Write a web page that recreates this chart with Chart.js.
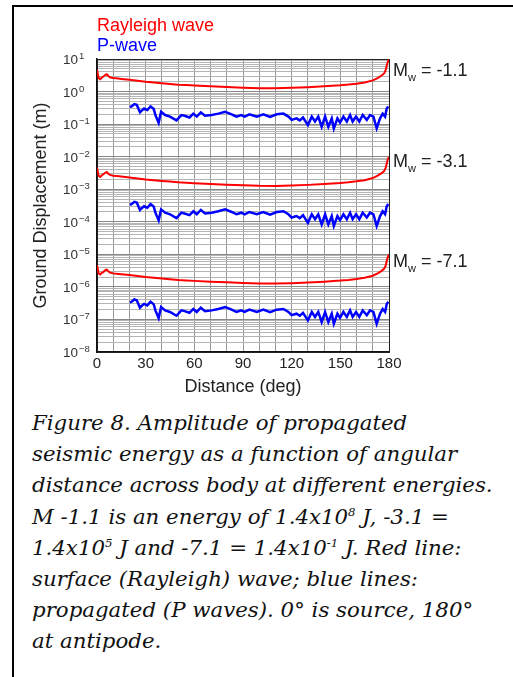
<!DOCTYPE html>
<html>
<head>
<meta charset="utf-8">
<script src="https://cdn.jsdelivr.net/npm/chart.js@4.4.1/dist/chart.umd.min.js"></script>
<style>
  html, body { margin: 0; padding: 0; background: #fff; }
  body { width: 513px; height: 677px; position: relative; overflow: hidden; }
  .frame { position: absolute; left: 12px; top: 5px; right: -4px; bottom: -4px; border-left: 2px solid #000; border-top: 2px solid #000; }
  #wrap { position: absolute; left: 0; top: 0; width: 513px; height: 400px; }
  .cap { position: absolute; left: 32px; top: 407px; margin: 0; font: italic 21.3px/31.2px "DejaVu Serif", serif; color: #111; white-space: nowrap; }
  .cap sup { font-size: 0.55em; line-height: 0; vertical-align: 0.7em; }
</style>
</head>
<body>
<div class="frame"></div>
<div id="wrap"><canvas id="c" width="513" height="400"></canvas></div>
<p class="cap">Figure 8. Amplitude of propagated<br>seismic energy as a function of angular<br>distance across body at different energies.<br>M -1.1 is an energy of 1.4x10<sup>8</sup> J, -3.1 =<br>1.4x10<sup>5</sup> J and -7.1 = 1.4x10<sup>-1</sup> J. Red line:<br>surface (Rayleigh) wave; blue lines:<br>propagated (P waves). 0° is source, 180°<br>at antipode.</p>
<script>
// Seismic amplitude vs angular distance for three magnitudes (log y axis, metres).

const MAGNITUDES = ["-1.1", "-3.1", "-7.1"];
const MW_LABEL_AT = [3.0, 4.8e-3, 4.1e-6]; // baseline of each "Mw = ..." label, in metres

const X_GRID = [0, 10, 20, 30, 40, 50, 60, 70, 80, 90, 100, 110, 120, 130, 140, 150, 160, 170, 180];
const X_LABELS = [0, 30, 60, 90, 120, 150, 180];
const Y_DECADES = [-8, -7, -6, -5, -4, -3, -2, -1, 0, 1];
const Y_MINOR = [2, 3, 4, 5, 6, 7, 8, 9];

const RAYLEIGH_DEG = [0, 1, 2, 3, 4, 5, 6, 7, 8, 10, 12, 15, 20, 25, 30, 35, 40, 45, 50, 55, 60,
  70, 80, 90, 100, 110, 120, 130, 140, 150, 155, 160, 165, 170, 173, 175, 177, 178, 179, 180];
const RAYLEIGH_M11 = [4.6, 2.6, 2.4, 2.7, 2.9, 3.2, 3.4, 3.0, 2.75, 2.6, 2.55, 2.45, 2.3, 2.15, 2.0, 1.9, 1.8, 1.72, 1.63, 1.58, 1.53,
  1.45, 1.38, 1.32, 1.27, 1.26, 1.3, 1.36, 1.45, 1.56, 1.64, 1.75, 1.9, 2.2, 2.6, 3.0, 3.6, 4.6, 7.5, 10];
const RAYLEIGH_M31 = [4.6e-3, 2.6e-3, 2.4e-3, 2.7e-3, 2.9e-3, 3.2e-3, 3.4e-3, 3.0e-3, 2.75e-3, 2.6e-3, 2.55e-3, 2.45e-3, 2.3e-3, 2.15e-3, 2.0e-3, 1.9e-3, 1.8e-3, 1.72e-3, 1.63e-3, 1.58e-3, 1.53e-3,
  1.45e-3, 1.38e-3, 1.32e-3, 1.27e-3, 1.26e-3, 1.3e-3, 1.36e-3, 1.45e-3, 1.56e-3, 1.64e-3, 1.75e-3, 1.9e-3, 2.2e-3, 2.6e-3, 3.0e-3, 3.6e-3, 4.6e-3, 7.5e-3, 1e-2];
const RAYLEIGH_M71 = [4.6e-6, 2.6e-6, 2.4e-6, 2.7e-6, 2.9e-6, 3.2e-6, 3.4e-6, 3.0e-6, 2.75e-6, 2.6e-6, 2.55e-6, 2.45e-6, 2.3e-6, 2.15e-6, 2.0e-6, 1.9e-6, 1.8e-6, 1.72e-6, 1.63e-6, 1.58e-6, 1.53e-6,
  1.45e-6, 1.38e-6, 1.32e-6, 1.27e-6, 1.26e-6, 1.3e-6, 1.36e-6, 1.45e-6, 1.56e-6, 1.64e-6, 1.75e-6, 1.9e-6, 2.2e-6, 2.6e-6, 3.0e-6, 3.6e-6, 4.6e-6, 7.5e-6, 1e-5];

const PWAVE_DEG = [20.3, 21.5, 23, 24.5, 26.5, 27.5, 29, 31, 33, 35, 36, 38, 39.5, 42, 45, 49, 52, 54, 57, 59.4,
  61.5, 64, 66.6, 70.7, 74.8, 79, 83, 86, 89, 91, 94, 98.5, 102.5, 106.7, 110.8, 114.9, 118, 120, 123, 125,
  127, 130, 132.4, 134.4, 136.4, 138.5, 140.6, 142.6, 144.7, 146, 148.2, 149.8, 151.9, 154, 156, 157.6, 159.7, 161.7, 163.8, 166.3,
  168.3, 170.4, 172.4, 174.5, 176.1, 177.6, 178.6, 179.6];
const PWAVE_M11 = [0.33, 0.355, 0.41, 0.39, 0.23, 0.26, 0.30, 0.27, 0.35, 0.29, 0.19, 0.11, 0.24, 0.19, 0.17, 0.13, 0.19, 0.18, 0.16, 0.21,
  0.17, 0.23, 0.18, 0.19, 0.21, 0.24, 0.20, 0.17, 0.19, 0.17, 0.20, 0.17, 0.20, 0.166, 0.20, 0.21, 0.17, 0.135, 0.15, 0.13,
  0.16, 0.093, 0.17, 0.12, 0.17, 0.083, 0.17, 0.083, 0.15, 0.074, 0.15, 0.112, 0.17, 0.12, 0.19, 0.12, 0.17, 0.12, 0.19, 0.135,
  0.19, 0.17, 0.074, 0.15, 0.21, 0.17, 0.30, 0.35];
const PWAVE_M31 = [3.3e-4, 3.55e-4, 4.1e-4, 3.9e-4, 2.3e-4, 2.6e-4, 3.0e-4, 2.7e-4, 3.5e-4, 2.9e-4, 1.9e-4, 1.1e-4, 2.4e-4, 1.9e-4, 1.7e-4, 1.3e-4, 1.9e-4, 1.8e-4, 1.6e-4, 2.1e-4,
  1.7e-4, 2.3e-4, 1.8e-4, 1.9e-4, 2.1e-4, 2.4e-4, 2.0e-4, 1.7e-4, 1.9e-4, 1.7e-4, 2.0e-4, 1.7e-4, 2.0e-4, 1.66e-4, 2.0e-4, 2.1e-4, 1.7e-4, 1.35e-4, 1.5e-4, 1.3e-4,
  1.6e-4, 9.3e-5, 1.7e-4, 1.2e-4, 1.7e-4, 8.3e-5, 1.7e-4, 8.3e-5, 1.5e-4, 7.4e-5, 1.5e-4, 1.12e-4, 1.7e-4, 1.2e-4, 1.9e-4, 1.2e-4, 1.7e-4, 1.2e-4, 1.9e-4, 1.35e-4,
  1.9e-4, 1.7e-4, 7.4e-5, 1.5e-4, 2.1e-4, 1.7e-4, 3.0e-4, 3.5e-4];
const PWAVE_M71 = [3.3e-7, 3.55e-7, 4.1e-7, 3.9e-7, 2.3e-7, 2.6e-7, 3.0e-7, 2.7e-7, 3.5e-7, 2.9e-7, 1.9e-7, 1.1e-7, 2.4e-7, 1.9e-7, 1.7e-7, 1.3e-7, 1.9e-7, 1.8e-7, 1.6e-7, 2.1e-7,
  1.7e-7, 2.3e-7, 1.8e-7, 1.9e-7, 2.1e-7, 2.4e-7, 2.0e-7, 1.7e-7, 1.9e-7, 1.7e-7, 2.0e-7, 1.7e-7, 2.0e-7, 1.66e-7, 2.0e-7, 2.1e-7, 1.7e-7, 1.35e-7, 1.5e-7, 1.3e-7,
  1.6e-7, 9.3e-8, 1.7e-7, 1.2e-7, 1.7e-7, 8.3e-8, 1.7e-7, 8.3e-8, 1.5e-7, 7.4e-8, 1.5e-7, 1.12e-7, 1.7e-7, 1.2e-7, 1.9e-7, 1.2e-7, 1.7e-7, 1.2e-7, 1.9e-7, 1.35e-7,
  1.9e-7, 1.7e-7, 7.4e-8, 1.5e-7, 2.1e-7, 1.7e-7, 3.0e-7, 3.5e-7];

const RAYLEIGH = [RAYLEIGH_M11, RAYLEIGH_M31, RAYLEIGH_M71];
const PWAVE = [PWAVE_M11, PWAVE_M31, PWAVE_M71];

const RED = "#ff0000", BLUE = "#0000ff";
const SANS = '"Liberation Sans", Arial, Helvetica, sans-serif';

const pts = (xs, ys) => xs.map((x, i) => ({ x, y: ys[i] }));

const datasets = [];
MAGNITUDES.forEach((m, k) => {
  datasets.push({ label: `Rayleigh Mw ${m}`, data: pts(RAYLEIGH_DEG, RAYLEIGH[k]), borderColor: RED, borderWidth: 2 });
  datasets.push({ label: `P-wave Mw ${m}`, data: pts(PWAVE_DEG, PWAVE[k]), borderColor: BLUE, borderWidth: 2.5 });
});

// frame round the plot, drawn under the curves
const framePlugin = {
  id: "frame",
  beforeDatasetsDraw(chart) {
    const { ctx, chartArea: a } = chart;
    ctx.save();
    ctx.strokeStyle = "#222";
    ctx.lineWidth = 1;
    ctx.strokeRect(Math.round(a.left) + 0.5, Math.round(a.top) + 0.5, Math.round(a.right - a.left), Math.round(a.bottom - a.top));
    ctx.restore();
  },
};

// decade labels with superscript exponents, the colour legend and the Mw labels
const textPlugin = {
  id: "texts",
  afterDraw(chart) {
    const { ctx, chartArea: a } = chart;
    const y = chart.scales.y;
    ctx.save();
    ctx.textBaseline = "alphabetic";
    ctx.textAlign = "left";
    Y_DECADES.forEach((e) => {
      const py = y.getPixelForValue(Math.pow(10, e));
      ctx.fillStyle = "#333";
      ctx.font = `13.5px ${SANS}`;
      ctx.fillText("10", 63, py + 5);
      const w = ctx.measureText("10").width;
      ctx.font = `9.5px ${SANS}`;
      ctx.fillText(e < 0 ? "\u2212" + -e : String(e), 63 + w + 1, py);
    });

    ctx.font = `18px ${SANS}`;
    ctx.fillStyle = RED;
    ctx.fillText("Rayleigh wave", a.left, 31);
    ctx.fillStyle = BLUE;
    ctx.fillText("P-wave", a.left, 51);

    ctx.fillStyle = "#222";
    MAGNITUDES.forEach((m, k) => {
      const by = y.getPixelForValue(MW_LABEL_AT[k]);
      let x = a.right + 4;
      ctx.font = `18px ${SANS}`;
      ctx.fillText("M", x, by);
      x += ctx.measureText("M").width;
      ctx.font = `11px ${SANS}`;
      ctx.fillText("w", x, by + 5);
      x += ctx.measureText("w").width;
      ctx.font = `18px ${SANS}`;
      ctx.fillText(` = ${m}`, x, by);
    });
    ctx.restore();
  },
};

new Chart(document.getElementById("c"), {
  type: "line",
  data: { datasets },
  plugins: [framePlugin, textPlugin],
  options: {
    responsive: false,
    animation: false,
    events: [],
    parsing: false,
    layout: { padding: { top: 59, right: 124, left: 0, bottom: 0 } },
    elements: { point: { radius: 0 }, line: { tension: 0, fill: false } },
    plugins: { legend: { display: false }, tooltip: { enabled: false } },
    scales: {
      x: {
        type: "linear", min: 0, max: 180,
        afterBuildTicks: (s) => { s.ticks = X_GRID.map((v) => ({ value: v })); },
        afterFit: (s) => { s.height = 48; },
        ticks: { autoSkip: false, maxRotation: 0, padding: 3, color: "#222", font: { family: SANS, size: 15 },
          callback: (v) => (X_LABELS.includes(v) ? String(v) : "") },
        grid: { color: "#999", lineWidth: 1, drawTicks: false },
        border: { color: "#111", width: 1.5 },
        title: { display: true, text: "Distance (deg)", color: "#222", font: { family: SANS, size: 18 }, padding: { top: 0, bottom: 2 } },
      },
      y: {
        type: "logarithmic", min: 1e-8, max: 10,
        afterBuildTicks: (s) => {
          const t = [];
          Y_DECADES.forEach((e) => {
            t.push({ value: Math.pow(10, e), major: true });
            if (e < 1) Y_MINOR.forEach((m) => t.push({ value: m * Math.pow(10, e), major: false }));
          });
          s.ticks = t;
        },
        afterFit: (s) => { s.width = 97; },
        ticks: { display: false, autoSkip: false },
        grid: { drawTicks: false, lineWidth: 1, color: (c) => (c.tick && c.tick.major ? "#888" : "#b4b4b4") },
        border: { color: "#111", width: 1.5 },
        title: { display: true, text: "Ground Displacement (m)", color: "#222", font: { family: SANS, size: 18 }, padding: { top: 30, bottom: 0 } },
      },
    },
  },
});
</script>
</body>
</html>
